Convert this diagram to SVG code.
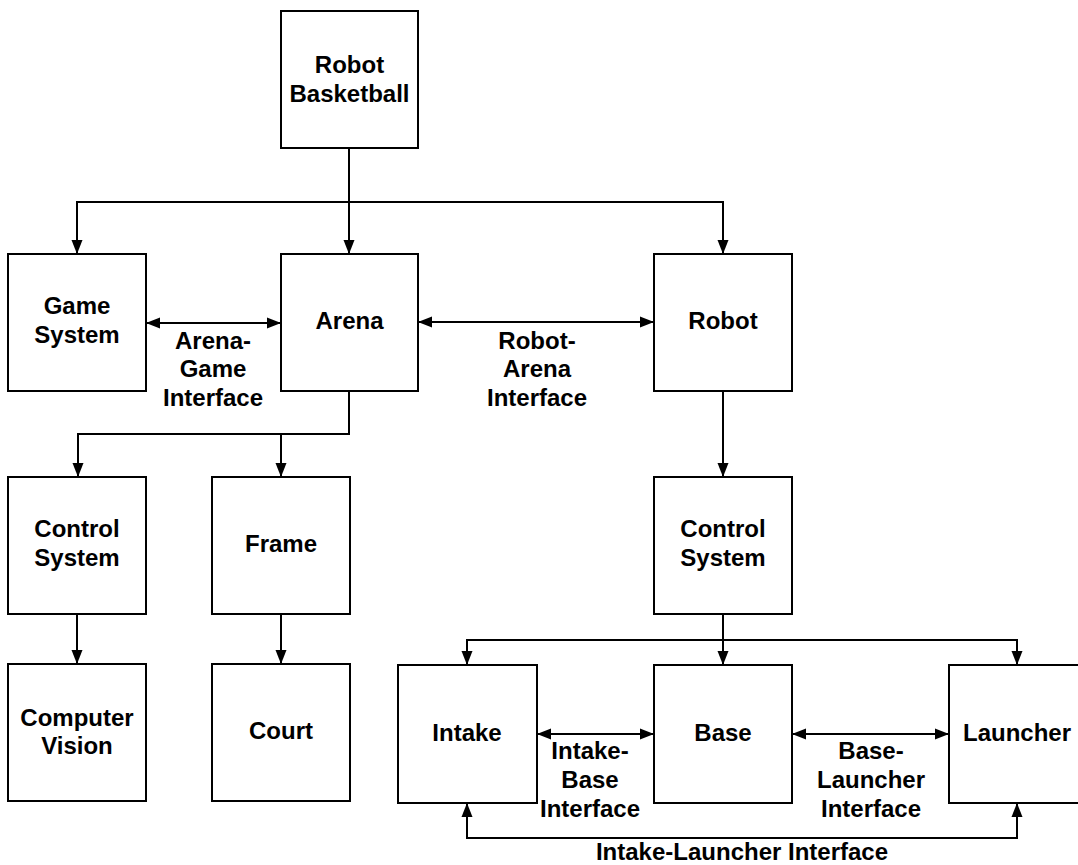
<svg xmlns="http://www.w3.org/2000/svg" width="1078" height="865" viewBox="0 0 1078 865">
<style>
.box{fill:#fff;stroke:#000;stroke-width:2}
.t{font-family:"Liberation Sans",Arial,sans-serif;font-weight:bold;font-size:24px;fill:#000;text-anchor:middle;dominant-baseline:central}
.c{fill:none;stroke:#000;stroke-width:2}
</style>
<defs>
<marker id="ah" markerUnits="userSpaceOnUse" markerWidth="14" markerHeight="12" refX="14" refY="6" orient="auto-start-reverse" viewBox="0 0 14 12">
<path d="M0,0.5 L14,6 L0,11.5 z" fill="#000"/>
</marker>
</defs>
<rect width="1078" height="865" fill="#fff"/>
<g id="connectors">
<path class="c" d="M349,148 V254" marker-end="url(#ah)"/>
<path class="c" d="M349,202 H77 V254" marker-end="url(#ah)"/>
<path class="c" d="M349,202 H723 V254" marker-end="url(#ah)"/>
<path class="c" d="M146,323 H281" marker-start="url(#ah)" marker-end="url(#ah)"/>
<path class="c" d="M418,322 H654" marker-start="url(#ah)" marker-end="url(#ah)"/>
<path class="c" d="M349,391 V434 H78 V477" marker-end="url(#ah)"/>
<path class="c" d="M281,434 V477" marker-end="url(#ah)"/>
<path class="c" d="M77,614 V664" marker-end="url(#ah)"/>
<path class="c" d="M281,614 V664" marker-end="url(#ah)"/>
<path class="c" d="M723,391 V477" marker-end="url(#ah)"/>
<path class="c" d="M723,614 V665" marker-end="url(#ah)"/>
<path class="c" d="M723,640 H467 V665" marker-end="url(#ah)"/>
<path class="c" d="M723,640 H1017 V665" marker-end="url(#ah)"/>
<path class="c" d="M537,734 H654" marker-start="url(#ah)" marker-end="url(#ah)"/>
<path class="c" d="M792,734 H949" marker-start="url(#ah)" marker-end="url(#ah)"/>
<path class="c" d="M467,803 V838 H1017 V803" marker-start="url(#ah)" marker-end="url(#ah)"/>
<text class="t" x="213" y="340">Arena-</text>
<text class="t" x="213" y="368">Game</text>
<text class="t" x="213" y="397">Interface</text>
<text class="t" x="537" y="340">Robot-</text>
<text class="t" x="537" y="368">Arena</text>
<text class="t" x="537" y="397">Interface</text>
<text class="t" x="590" y="750">Intake-</text>
<text class="t" x="590" y="779">Base</text>
<text class="t" x="590" y="808">Interface</text>
<text class="t" x="871" y="750">Base-</text>
<text class="t" x="871" y="779">Launcher</text>
<text class="t" x="871" y="808">Interface</text>
<text class="t" x="742" y="851">Intake-Launcher Interface</text>
</g>
<g id="robot-basketball"><rect class="box" x="281" y="11" width="137" height="137"/><text class="t" x="349.5" y="64">Robot</text><text class="t" x="349.5" y="93">Basketball</text></g>
<g id="game-system"><rect class="box" x="8" y="254" width="138" height="137"/><text class="t" x="77" y="305">Game</text><text class="t" x="77" y="334">System</text></g>
<g id="arena"><rect class="box" x="281" y="254" width="137" height="137"/><text class="t" x="349.5" y="320">Arena</text></g>
<g id="robot"><rect class="box" x="654" y="254" width="138" height="137"/><text class="t" x="723" y="320">Robot</text></g>
<g id="control-system-arena"><rect class="box" x="8" y="477" width="138" height="137"/><text class="t" x="77" y="528">Control</text><text class="t" x="77" y="557">System</text></g>
<g id="frame"><rect class="box" x="212" y="477" width="138" height="137"/><text class="t" x="281" y="543">Frame</text></g>
<g id="control-system-robot"><rect class="box" x="654" y="477" width="138" height="137"/><text class="t" x="723" y="528">Control</text><text class="t" x="723" y="557">System</text></g>
<g id="computer-vision"><rect class="box" x="8" y="664" width="138" height="137"/><text class="t" x="77" y="717">Computer</text><text class="t" x="77" y="745">Vision</text></g>
<g id="court"><rect class="box" x="212" y="664" width="138" height="137"/><text class="t" x="281" y="730">Court</text></g>
<g id="intake"><rect class="box" x="398" y="665" width="139" height="138"/><text class="t" x="467" y="732">Intake</text></g>
<g id="base"><rect class="box" x="654" y="665" width="138" height="138"/><text class="t" x="723" y="732">Base</text></g>
<g id="launcher"><rect class="box" x="949" y="665" width="140" height="138"/><text class="t" x="1017" y="732">Launcher</text></g>
</svg>
